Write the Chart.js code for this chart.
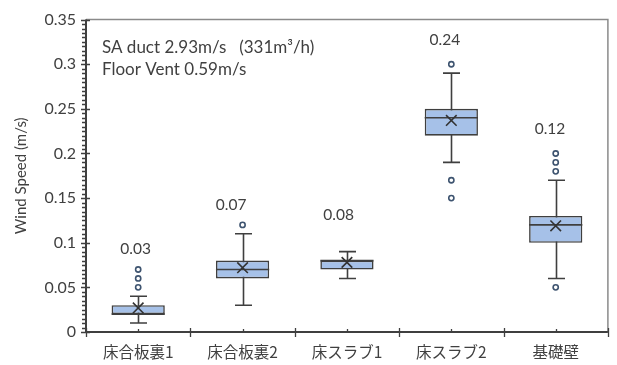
<!DOCTYPE html>
<html>
<head>
<meta charset="utf-8">
<script src="https://cdn.jsdelivr.net/npm/chart.js@4/dist/chart.umd.min.js"></script>
<style>
  html, body { margin: 0; padding: 0; background: #ffffff; }
  #wrap { width: 617px; height: 365px; position: relative; }
</style>
</head>
<body>
<div id="wrap"><canvas id="c"></canvas></div>
<script>
// Measurement locations
const categories = ['床合板裏1', '床合板裏2', '床スラブ1', '床スラブ2', '基礎壁'];

// Five-number summaries per location (m/s)
const whiskerLow  = [0.01, 0.03, 0.06, 0.19, 0.06];
const quartile1   = [0.02, 0.06, 0.07, 0.22, 0.10];
const medians     = [0.02, 0.07, 0.08, 0.24, 0.12];
const quartile3   = [0.03, 0.08, 0.08, 0.25, 0.13];
const whiskerHigh = [0.04, 0.11, 0.09, 0.29, 0.17];
const means       = [0.027, 0.072, 0.078, 0.237, 0.119];

// Outlying readings per location
const outliers = [
  [0.05, 0.06, 0.07],
  [0.12],
  [],
  [0.30, 0.17, 0.15],
  [0.18, 0.19, 0.20, 0.05]
];

// Y axis ticks
const yTicks = [0, 0.05, 0.1, 0.15, 0.2, 0.25, 0.3, 0.35];

// Where each mean label sits: x shift (fraction of a category) and y (m/s)
const labelAnchors = [
  { dx: -0.025, y: 0.093 },
  { dx: -0.11,  y: 0.142 },
  { dx: -0.08,  y: 0.1315 },
  { dx: -0.062, y: 0.327 },
  { dx: -0.055, y: 0.227 }
];

const noteLines = ['SA duct 2.93m/s\u2003(331m\u00B3/h)', 'Floor Vent 0.59m/s'];
const yTitle = 'Wind Speed (m/s)';

const INK = '#3f3f3f';
const TEXT = '#404040';
const LATIN = 'Lato, "Liberation Sans", sans-serif';
const CJK = '"Noto Sans CJK JP", "Noto Sans", sans-serif';

const boxData = categories.map((_, i) => [quartile1[i], quartile3[i]]);
const outlierPoints = [];
outliers.forEach((list, i) => list.forEach(v => outlierPoints.push({ x: categories[i], y: v })));
const meanPoints = means.map((v, i) => ({ x: categories[i], y: v }));

// Whiskers behind the boxes, medians on the boxes, frame, ticks and labels on top
const boxPlotExtras = {
  id: 'boxPlotExtras',
  beforeDatasetsDraw(chart) {
    const { ctx, scales: { x, y } } = chart;
    const cap = 8.5;
    ctx.save();
    ctx.strokeStyle = INK;
    ctx.lineWidth = 1.6;
    categories.forEach((c, i) => {
      const px = Math.round(x.getPixelForValue(i)) + 0.5;
      const lo = y.getPixelForValue(whiskerLow[i]);
      const hi = y.getPixelForValue(whiskerHigh[i]);
      ctx.beginPath();
      ctx.moveTo(px, lo); ctx.lineTo(px, hi);
      ctx.moveTo(px - cap, lo); ctx.lineTo(px + cap, lo);
      ctx.moveTo(px - cap, hi); ctx.lineTo(px + cap, hi);
      ctx.stroke();
    });
    ctx.restore();
  },
  afterDatasetDraw(chart, args) {
    if (args.index !== 0) return;
    const { ctx, scales: { y } } = chart;
    const meta = chart.getDatasetMeta(0);
    ctx.save();
    ctx.strokeStyle = INK;
    ctx.lineWidth = 1.6;
    meta.data.forEach((bar, i) => {
      const py = y.getPixelForValue(medians[i]);
      const half = bar.width / 2;
      ctx.beginPath();
      ctx.moveTo(bar.x - half, py);
      ctx.lineTo(bar.x + half, py);
      ctx.stroke();
    });
    ctx.restore();
  },
  afterDatasetsDraw(chart) {
    const { ctx, chartArea: a, scales: { x, y } } = chart;
    ctx.save();
    // plot frame: light top/right, dark axes
    ctx.strokeStyle = '#8a8a8a';
    ctx.lineWidth = 1.5;
    ctx.beginPath();
    ctx.moveTo(a.left, a.top); ctx.lineTo(a.right, a.top); ctx.lineTo(a.right, a.bottom);
    ctx.stroke();
    ctx.strokeStyle = INK;
    ctx.lineWidth = 2;
    ctx.beginPath();
    ctx.moveTo(a.left, a.top); ctx.lineTo(a.left, a.bottom); ctx.lineTo(a.right, a.bottom);
    ctx.stroke();
    // y ticks: major crossing the axis, minor every 0.005 on the outside
    ctx.lineWidth = 1.3;
    ctx.beginPath();
    for (let k = 0; k <= 70; k++) {
      const py = Math.round(y.getPixelForValue(k * 0.005)) + 0.5;
      if (k % 10 === 0) {
        ctx.moveTo(a.left - 5, py); ctx.lineTo(a.left + 4, py);
      } else {
        ctx.moveTo(a.left - 4, py); ctx.lineTo(a.left, py);
      }
    }
    // x ticks: boundaries crossing the axis, small marks at category centres
    const step = (a.right - a.left) / categories.length;
    for (let k = 0; k <= categories.length; k++) {
      const px = Math.round(a.left + k * step) + 0.5;
      ctx.moveTo(px, a.bottom - 4); ctx.lineTo(px, a.bottom + 5);
    }
    categories.forEach((c, i) => {
      const px = Math.round(x.getPixelForValue(i)) + 0.5;
      ctx.moveTo(px, a.bottom - 3); ctx.lineTo(px, a.bottom);
    });
    ctx.stroke();

    // mean value labels
    ctx.fillStyle = TEXT;
    ctx.font = '15.5px ' + LATIN;
    ctx.textAlign = 'center';
    ctx.textBaseline = 'middle';
    means.forEach((m, i) => {
      const px = x.getPixelForValue(i) + labelAnchors[i].dx * step;
      const py = y.getPixelForValue(labelAnchors[i].y);
      ctx.fillText(m.toFixed(2), px, py);
    });

    // operating conditions note
    ctx.textAlign = 'left';
    ctx.font = '17px ' + LATIN;
    noteLines.forEach((t, i) => ctx.fillText(t, a.left + 16, a.top + 28 + i * 21.5));

    // y axis title
    ctx.translate(21, (a.top + a.bottom) / 2);
    ctx.rotate(-Math.PI / 2);
    ctx.textAlign = 'center';
    ctx.font = '15px ' + LATIN;
    ctx.fillText(yTitle, 0, 0);
    ctx.restore();
  }
};

new Chart(document.getElementById('c'), {
  type: 'bar',
  data: {
    labels: categories,
    datasets: [
      {
        data: boxData,
        backgroundColor: '#a6c1e8',
        borderColor: INK,
        borderWidth: 1.6,
        borderSkipped: false,
        categoryPercentage: 1,
        barPercentage: 0.51,
        order: 3
      },
      {
        type: 'line',
        data: outlierPoints,
        showLine: false,
        pointStyle: 'circle',
        pointRadius: 2.6,
        pointBorderWidth: 1.6,
        pointBorderColor: '#3e5470',
        pointBackgroundColor: '#ffffff',
        order: 1
      },
      {
        type: 'line',
        data: meanPoints,
        showLine: false,
        pointStyle: 'crossRot',
        pointRadius: 7.5,
        pointBorderWidth: 1.6,
        pointBorderColor: '#333333',
        order: 0
      }
    ]
  },
  options: {
    responsive: true,
    maintainAspectRatio: false,
    animation: false,
    events: [],
    layout: { padding: { top: 14, right: 4, left: 0, bottom: 0 } },
    plugins: { legend: { display: false }, tooltip: { enabled: false } },
    scales: {
      x: {
        grid: { display: false, drawTicks: false },
        border: { display: false },
        ticks: { font: { family: CJK, size: 15.5 }, color: TEXT, padding: 11 },
        afterFit(s) { s.height = 33; }
      },
      y: {
        min: 0,
        max: 0.35,
        afterBuildTicks(s) { s.ticks = yTicks.map(v => ({ value: v })); },
        grid: { display: false, drawTicks: false },
        border: { display: false },
        ticks: {
          font: { family: LATIN, size: 16 },
          color: TEXT,
          padding: 10,
          callback: v => String(Number(v.toFixed(2)))
        },
        afterFit(s) { s.width = 86; }
      }
    }
  },
  plugins: [boxPlotExtras]
});
</script>
</body>
</html>
